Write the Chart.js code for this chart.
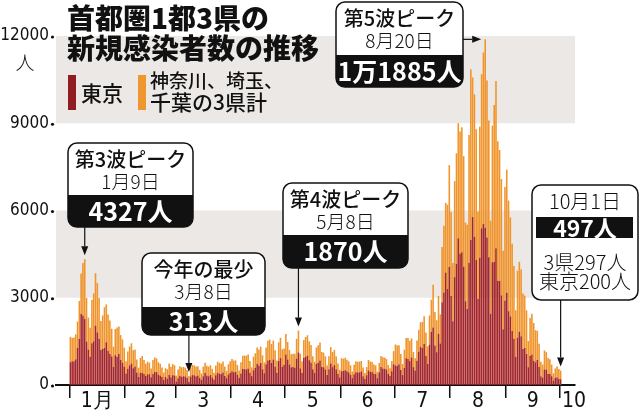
<!DOCTYPE html>
<html lang="ja">
<head>
<meta charset="utf-8">
<title>首都圏1都3県の新規感染者数の推移</title>
<script src="https://cdn.jsdelivr.net/npm/chart.js@4.4.1/dist/chart.umd.min.js"></script>
<style>
  html, body { margin: 0; padding: 0; background: #fff; }
  #wrap { position: relative; width: 640px; height: 410px; }
</style>
</head>
<body>
<div id="wrap"><canvas id="grafico"></canvas></div>
<script>
// 東京 daily cases, Jan 1 - Oct 1 2021
const tokyo = [
  783, 814, 816, 884, 1278, 1591, 2447, 2392, 2268, 1494, 1219, 970, 1433, 1502, 2044, 1809, 1592, 1204, 1240, 1274, 1471, 1175, 1070, 986, 618, 1026, 973, 1064, 868, 769, 633,
  393, 556, 676, 734, 577, 639, 429, 276, 412, 434, 378, 307, 369, 371, 266, 378, 445, 445, 353, 327, 272, 178, 275, 213, 340, 270, 337, 329,
  121, 232, 316, 279, 301, 293, 237, 116, 290, 340, 335, 304, 326, 239, 175, 300, 409, 323, 303, 342, 256, 187, 337, 420, 394, 376, 430, 313, 234, 364, 414,
  475, 440, 446, 355, 249, 399, 555, 545, 537, 570, 421, 306, 510, 591, 729, 667, 759, 543, 405, 711, 843, 861, 759, 876, 635, 425, 828, 925, 629, 698,
  1050, 879, 708, 609, 621, 591, 907, 1121, 573, 419, 925, 969, 1010, 854, 772, 542, 419, 732, 766, 843, 618, 612, 535, 340, 538, 743, 614, 684, 539, 388, 260,
  471, 487, 508, 472, 436, 351, 235, 369, 440, 439, 435, 467, 304, 209, 337, 501, 452, 453, 388, 376, 236, 435, 619, 570, 562, 534, 386, 317, 476, 714,
  673, 660, 716, 518, 342, 593, 920, 896, 822, 950, 614, 502, 830, 1149, 1308, 1271, 1410, 1008, 727, 1387, 1832, 1979, 1359, 1128, 1763, 1429, 2848, 3177, 3865, 3300, 4058,
  3058, 2195, 3709, 4166, 5042, 4515, 4566, 4066, 2884, 2612, 4200, 4989, 5773, 5094, 4295, 2962, 4377, 5386, 5534, 5405, 5074, 4392, 2447, 4220, 4228, 4704, 3581, 3581, 3081, 1915, 2909,
  3168, 2539, 2362, 1853, 1594, 968, 1629, 1834, 1675, 1242, 1273, 1067, 611, 1004, 1052, 831, 782, 862, 616, 302, 253, 537, 531, 382, 383, 302, 154, 248, 267, 218,
  200
];

// 神奈川、埼玉、千葉の3県計
const sanken = [
  870, 800, 820, 860, 900, 1300, 1390, 1800, 2059, 1500, 1100, 1000, 1500, 1650, 1800, 1700, 1400, 1000, 1150, 1400, 1300, 1250, 1150, 950, 700, 900, 1000, 950, 850, 800, 650,
  420, 600, 650, 700, 620, 580, 450, 320, 520, 560, 480, 420, 430, 400, 300, 480, 500, 470, 430, 400, 330, 250, 300, 330, 400, 360, 380, 350,
  200, 300, 330, 330, 320, 300, 280, 197, 320, 350, 340, 330, 320, 280, 220, 330, 360, 340, 330, 340, 300, 230, 330, 380, 370, 360, 380, 320, 250, 350, 400,
  420, 400, 400, 330, 250, 380, 450, 470, 470, 480, 400, 300, 460, 500, 560, 550, 560, 480, 370, 580, 680, 700, 650, 650, 560, 420, 640, 700, 600, 560,
  700, 600, 500, 450, 450, 480, 680, 749, 500, 400, 620, 680, 700, 650, 600, 450, 380, 560, 600, 620, 520, 500, 450, 330, 450, 560, 520, 520, 450, 350, 260,
  450, 420, 430, 400, 380, 330, 230, 330, 380, 360, 370, 360, 300, 200, 280, 360, 360, 340, 320, 300, 220, 320, 380, 380, 380, 360, 300, 260, 350, 450,
  720, 700, 650, 550, 380, 620, 700, 720, 700, 650, 520, 420, 700, 750, 850, 900, 950, 800, 600, 1000, 1100, 1470, 1150, 1100, 1300, 1000, 1900, 2300, 2400, 2900, 3500,
  2900, 2000, 3300, 3800, 3960, 4200, 4300, 3800, 2700, 2900, 4400, 5870, 4800, 4900, 4500, 3000, 4500, 5300, 5900, 6480, 5400, 4700, 3200, 4700, 5400, 5750, 4800, 4500, 4000, 2700, 3900,
  4240, 3800, 3400, 3000, 2500, 1600, 2300, 2400, 2300, 1900, 1800, 1500, 900, 1300, 1400, 1300, 1100, 1000, 800, 500, 450, 650, 600, 550, 500, 400, 250, 320, 380, 330,
  297
];

const monthLabels = ['1月', '2', '3', '4', '5', '6', '7', '8', '9', '10'];
const monthStartDays = [0, 31, 59, 90, 120, 151, 181, 212, 243, 273];
const yTicks = [0, 3000, 6000, 9000, 12000];
const bandRanges = [[3000, 6000], [9000, 12000]];

const days = tokyo.map((v, i) => i);
const totals = tokyo.map((v, i) => v + sanken[i]);

const JP = '"Noto Sans CJK JP", "Noto Sans", sans-serif';
const NUM = '"Liberation Sans Narrow", "DejaVu Sans Condensed", "Liberation Sans", sans-serif';

const callouts = [
  { day: 8, head: '第3波ピーク', date: '1月9日', value: '4327人', box: [68, 143, 125, 84, 52], dir: 'down' },
  { day: 66, head: '今年の最少', date: '3月8日', value: '313人', box: [142, 253, 123, 82, 54], dir: 'down' },
  { day: 127, head: '第4波ピーク', date: '5月8日', value: '1870人', box: [283, 183, 125, 85, 52], dir: 'down' },
  { day: 231, head: '第5波ピーク', date: '8月20日', value: '1万1885人', box: [336, 2, 127, 85, 53], dir: 'right' }
];

function roundPath(ctx, x, y, w, h, r) {
  ctx.beginPath();
  ctx.moveTo(x + r, y);
  ctx.lineTo(x + w - r, y);
  ctx.arcTo(x + w, y, x + w, y + r, r);
  ctx.lineTo(x + w, y + h - r);
  ctx.arcTo(x + w, y + h, x + w - r, y + h, r);
  ctx.lineTo(x + r, y + h);
  ctx.arcTo(x, y + h, x, y + h - r, r);
  ctx.lineTo(x, y + r);
  ctx.arcTo(x, y, x + r, y, r);
  ctx.closePath();
}

function texto(ctx, str, x, y, font, color, align) {
  ctx.font = font;
  ctx.fillStyle = color;
  ctx.textAlign = align || 'center';
  ctx.textBaseline = 'middle';
  ctx.fillText(str, x, y);
}

function flecha(ctx, x1, y1, x2, y2) {
  const ang = Math.atan2(y2 - y1, x2 - x1);
  const hl = 9, hw = 3.5;
  const bx = x2 - Math.cos(ang) * hl, by = y2 - Math.sin(ang) * hl;
  ctx.strokeStyle = '#111';
  ctx.lineWidth = 1.2;
  ctx.beginPath();
  ctx.moveTo(x1, y1);
  ctx.lineTo(bx, by);
  ctx.stroke();
  ctx.fillStyle = '#111';
  ctx.beginPath();
  ctx.moveTo(x2, y2);
  ctx.lineTo(bx - Math.sin(ang) * hw, by + Math.cos(ang) * hw);
  ctx.lineTo(bx + Math.sin(ang) * hw, by - Math.cos(ang) * hw);
  ctx.closePath();
  ctx.fill();
}

function cajaBase(ctx, x, y, w, h, split) {
  roundPath(ctx, x, y, w, h, 9);
  ctx.fillStyle = '#fff';
  ctx.fill();
  ctx.save();
  roundPath(ctx, x, y, w, h, 9);
  ctx.clip();
  ctx.fillStyle = '#111';
  ctx.fillRect(x, y + split, w, h - split);
  ctx.restore();
  roundPath(ctx, x, y, w, h, 9);
  ctx.strokeStyle = '#111';
  ctx.lineWidth = 1.5;
  ctx.stroke();
}

const dibujo = {
  id: 'dibujo',
  beforeDatasetsDraw(chart) {
    const { ctx, chartArea: a, scales: { y } } = chart;
    ctx.save();
    ctx.fillStyle = '#ebe8e5';
    bandRanges.forEach(([lo, hi]) => {
      const top = y.getPixelForValue(hi), bot = y.getPixelForValue(lo);
      ctx.fillRect(a.left, top, a.right - a.left, bot - top);
    });
    ctx.restore();
  },
  afterDraw(chart) {
    const { ctx, chartArea: a, scales: { x, y } } = chart;
    ctx.save();

    // y tick dots and unit
    ctx.fillStyle = '#111';
    yTicks.forEach(v => {
      ctx.beginPath();
      ctx.arc(a.left - 3.5, y.getPixelForValue(v) + 1, 1.6, 0, Math.PI * 2);
      ctx.fill();
    });
    texto(ctx, '人', 25, 63, '300 19px ' + JP, '#111');

    // title
    texto(ctx, '首都圏1都3県の', 67, 18, '900 28px ' + JP, '#111', 'left');
    texto(ctx, '新規感染者数の推移', 67, 48, '900 28px ' + JP, '#111', 'left');

    // legend
    ctx.fillStyle = '#8f1d22';
    ctx.fillRect(68, 75, 8, 35);
    texto(ctx, '東京', 81, 93, '500 21px ' + JP, '#111', 'left');
    ctx.fillStyle = '#f0962e';
    ctx.fillRect(138, 75, 8, 35);
    texto(ctx, '神奈川、埼玉、', 150, 81, '500 19px ' + JP, '#111', 'left');
    texto(ctx, '千葉の3県計', 150, 102, '500 21px ' + JP, '#111', 'left');

    // callouts
    callouts.forEach(c => {
      const [bx, by, bw, bh, split] = c.box;
      const px = x.getPixelForValue(c.day);
      const py = y.getPixelForValue(totals[c.day]);
      if (c.dir === 'down') {
        flecha(ctx, px, by + bh, px, py - 4);
      } else {
        flecha(ctx, bx + bw, py, px - 4, py);
      }
      cajaBase(ctx, bx, by, bw, bh, split);
      const cx = bx + bw / 2;
      texto(ctx, c.head, cx, by + 16, '500 20px ' + JP, '#111');
      texto(ctx, c.date, cx, by + 39, '300 19px ' + JP, '#111');
      texto(ctx, c.value, cx, by + split + (bh - split) / 2, 'bold 25px ' + JP, '#fff');
    });

    // last day box
    const last = tokyo.length - 1;
    const lx = x.getPixelForValue(last);
    const ly = y.getPixelForValue(totals[last]);
    flecha(ctx, lx, 300, lx, ly - 4);
    roundPath(ctx, 532, 185, 106, 115, 9);
    ctx.fillStyle = '#fff';
    ctx.fill();
    ctx.strokeStyle = '#111';
    ctx.lineWidth = 1.5;
    ctx.stroke();
    texto(ctx, '10月1日', 585, 201, '300 20px ' + JP, '#111');
    ctx.fillStyle = '#111';
    ctx.fillRect(536, 217, 97, 21);
    texto(ctx, totals[last] + '人', 585, 228, 'bold 23px ' + JP, '#fff');
    texto(ctx, '3県' + sanken[last] + '人', 585, 262, '300 20px ' + JP, '#111');
    texto(ctx, '東京' + tokyo[last] + '人', 585, 281, '300 20px ' + JP, '#111');

    ctx.restore();
  }
};

const ctxBarras = document.getElementById('grafico');
if (ctxBarras) {
  new Chart(ctxBarras, {
    type: 'bar',
    data: {
      labels: days,
      datasets: [
        {
          label: '東京',
          data: tokyo,
          backgroundColor: '#a3262a',
          borderWidth: 0,
          barPercentage: 0.88,
          categoryPercentage: 1
        },
        {
          label: '神奈川、埼玉、千葉の3県計',
          data: sanken,
          backgroundColor: '#f0942c',
          borderWidth: 0,
          barPercentage: 0.88,
          categoryPercentage: 1
        }
      ]
    },
    options: {
      responsive: true,
      maintainAspectRatio: false,
      animation: false,
      layout: {
        padding: { top: 36, right: 65, left: 0, bottom: 0 }
      },
      plugins: {
        legend: { display: false },
        tooltip: { enabled: false }
      },
      scales: {
        x: {
          type: 'linear',
          stacked: true,
          offset: false,
          min: -8,
          max: 281,
          afterBuildTicks: (scale) => {
            const t = [];
            monthStartDays.forEach(d => t.push({ value: d - 0.5 }));
            monthStartDays.forEach((d, i) => {
              const end = i + 1 < monthStartDays.length ? monthStartDays[i + 1] : d + 16;
              t.push({ value: (d + end) / 2 - 0.5, name: monthLabels[i] });
            });
            scale.ticks = t;
          },
          afterFit: (scale) => { scale.height = 25; },
          border: { display: true, color: '#111', width: 2 },
          grid: {
            offset: false,
            drawOnChartArea: false,
            drawTicks: true,
            tickLength: 13,
            lineWidth: 1.5,
            color: (c) => (c.tick && c.tick.name) ? 'rgba(0,0,0,0)' : '#111'
          },
          ticks: {
            autoSkip: false,
            maxRotation: 0,
            minRotation: 0,
            padding: -9,
            color: '#111',
            font: { family: NUM, size: 21 },
            callback: (value, i, ticks) => ticks[i].name || ''
          }
        },
        y: {
          stacked: true,
          min: 0,
          max: 12000,
          afterBuildTicks: (scale) => {
            scale.ticks = yTicks.map(v => ({ value: v }));
          },
          afterFit: (scale) => { scale.width = 56; },
          border: { display: false },
          grid: { display: false, drawTicks: false },
          ticks: {
            padding: 7,
            color: '#111',
            font: { family: NUM, size: 17 },
            callback: (value) => String(value)
          }
        }
      }
    },
    plugins: [dibujo]
  });
}
</script>
</body>
</html>
